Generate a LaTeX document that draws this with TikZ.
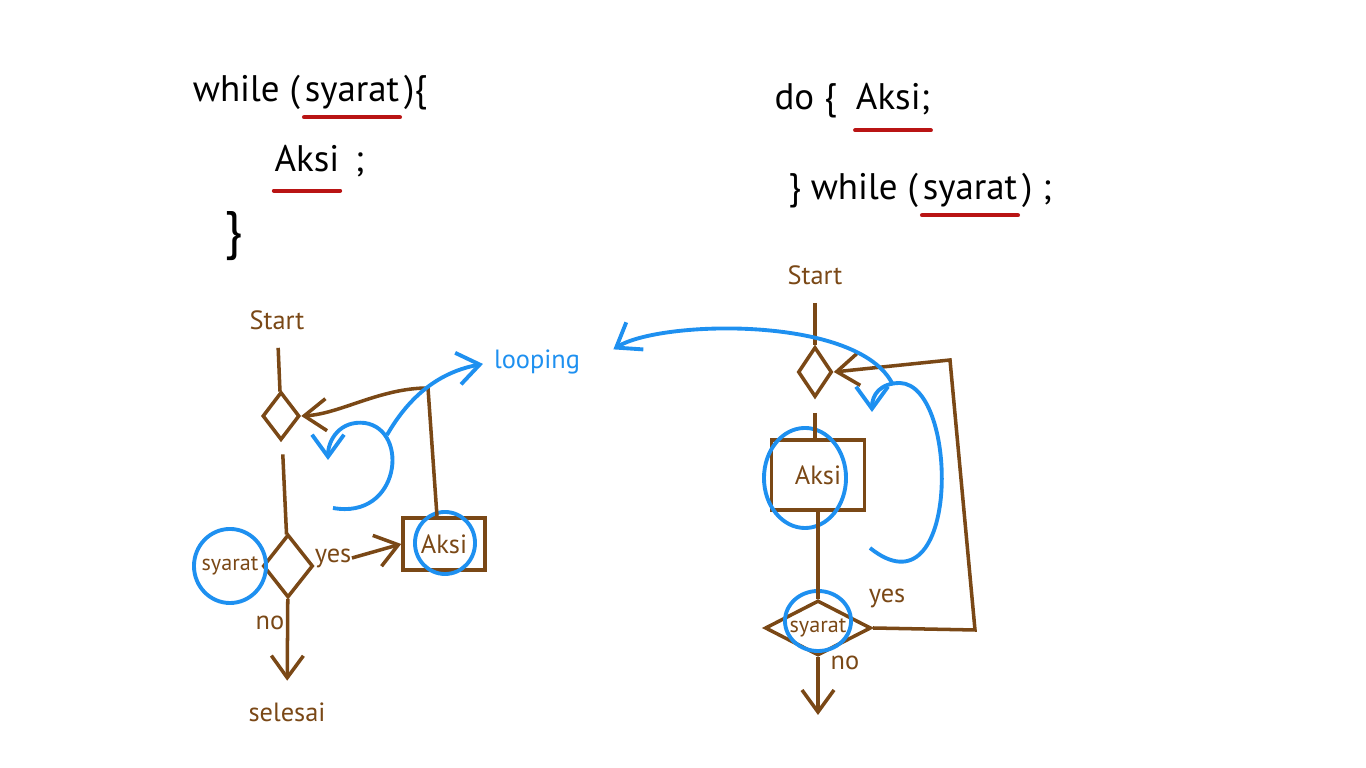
\documentclass[tikz,border=0pt]{standalone}
\usepackage{fontspec}
\setmainfont{PT Sans}
\usetikzlibrary{arrows.meta, positioning, shapes.geometric}
\definecolor{brownink}{RGB}{122,72,22}
\definecolor{blueink}{RGB}{30,144,240}
\definecolor{redink}{RGB}{185,20,20}

\begin{document}
\begin{tikzpicture}[
    x=0.01cm, y=-0.01cm,
    >={Straight Barb[length=2.2mm, width=3.2mm]},
    code/.style={inner sep=0pt, font=\fontsize{10.5}{12}\selectfont},
    lbl/.style={inner sep=0pt, text=brownink, font=\fontsize{7.5}{9}\selectfont},
    small/.style={inner sep=0pt, text=brownink, font=\fontsize{6.3}{8}\selectfont},
    decision/.style={draw=brownink, line width=1pt, diamond, inner sep=0pt},
    action/.style={draw=brownink, line width=1pt, inner sep=0pt, text=brownink, font=\fontsize{7.5}{9}\selectfont},
    flow/.style={brownink, line width=1pt},
    ring/.style={draw=blueink, line width=1.1pt, ellipse, inner sep=0pt},
    spin/.style={blueink, line width=1.1pt},
    redline/.style={redink, line width=1.2pt, line cap=round}
]
\useasboundingbox (0,0) rectangle (1366,768);

\node[code, anchor=base] (condW) at (352,102) {syarat};
\node[code, base left=1pt of condW] (whileW) {while (};
\node[code, base right=1pt of condW] (braceW) {)\{};
\node[code, anchor=base] (actW) at (307,172) {Aksi};
\node[code, base right=4pt of actW] (semiW) {;};
\node[code, font=\fontsize{15}{17}\selectfont] (closeW) at (234,236) {\}};
\draw[redline] ([yshift=-2pt]condW.south west) -- ([yshift=-2pt]condW.south east);
\draw[redline] ([yshift=-5pt]actW.south west) -- ([yshift=-5pt]actW.south east);

\node[code, anchor=base] (actD) at (893,110) {Aksi;};
\node[code, base left=5pt of actD] (doD) {do \{};
\node[code, anchor=base] (condD) at (970,200) {syarat};
\node[code, base left=1pt of condD] (whileD) {\} while (};
\node[code, base right=1pt of condD] (endD) {) ;};
\draw[redline] ([yshift=-4pt]actD.south west) -- ([yshift=-4pt]actD.south east);
\draw[redline] ([yshift=-2pt]condD.south west) -- ([yshift=-2pt]condD.south east);

\node[lbl] (startL) at (277,320) {Start};
\node[decision, minimum width=0.37cm, minimum height=0.48cm] (entryL) at (281,416) {};
\node[decision, minimum width=0.5cm, minimum height=0.63cm] (condL) at (288,566) {};
\node[small] (condLtxt) at (230,566) {syarat};
\node[ring, minimum width=0.72cm, minimum height=0.74cm] (condLring) at (230,566) {};
\node[lbl] (yesL) at (333,558) {yes};
\node[action, minimum width=0.82cm, minimum height=0.52cm] (actL) at (444,544) {Aksi};
\node[ring, minimum width=0.6cm, minimum height=0.62cm] (actLring) at (445,543) {};
\node[lbl] (noL) at (270,623) {no};
\node[lbl] (endL) at (287,712) {selesai};
\coordinate (backL) at (428,388);

\draw[flow, shorten <=5pt] (startL) -- (entryL);
\draw[flow, shorten <=4pt] (entryL) -- (condL);
\draw[flow, ->] (yesL.east) -- (actL.west);
\draw[flow, ->, shorten >=6pt] (condL) -- (endL);
\draw[flow, ->] ([xshift=-0.07cm]actL.north) -- (backL) .. controls (380,388) and (340,414) .. (entryL.east);

\node[lbl] (startR) at (815,275) {Start};
\node[decision, minimum width=0.34cm, minimum height=0.5cm] (entryR) at (815,372) {};
\node[action, minimum width=0.93cm, minimum height=0.7cm] (actR) at (818,475) {Aksi};
\node[ring, minimum width=0.82cm, minimum height=1.0cm] (actRring) at (805,478) {};
\node[decision, minimum width=1.06cm, minimum height=0.55cm] (condR) at (818,628) {};
\node[small] (condRtxt) at (818,628) {syarat};
\node[ring, minimum width=0.66cm, minimum height=0.6cm] (condRring) at (818,621) {};
\node[lbl] (yesR) at (887,598) {yes};
\node[lbl] (noR) at (845,663) {no};
\coordinate (exitR) at (818,715);
\coordinate (cornerRb) at (975,630);
\coordinate (cornerRt) at (950,360);

\draw[flow, shorten <=5pt] (startR) -- (entryR);
\draw[flow, shorten <=4pt] (entryR.south) -- (entryR.south |- actR.north);
\draw[flow] (actR.south) -- (actR.south |- condR.north);
\draw[flow, ->] (condR.south) -- (exitR);
\draw[flow, ->] (condR.east) -- (cornerRb) -- (cornerRt) -- (entryR.east);

\node[text=blueink, inner sep=0pt, font=\fontsize{7.5}{9}\selectfont] (loopTxt) at (537,362) {looping};
\coordinate (spinLa) at (333,508);
\coordinate (spinLb) at (328,460);
\coordinate (spinLc) at (387,435);
\coordinate (spinRa) at (870,548);
\coordinate (spinRb) at (872,412);
\coordinate (spinRc) at (893,385);

\draw[spin, ->] (spinLa) .. controls (400,520) and (410,430) .. (365,423) .. controls (340,420) and (328,440) .. (spinLb);
\draw[spin, ->, shorten >=3pt] (spinLc) .. controls (410,395) and (440,372) .. (loopTxt.west);
\draw[spin, ->] (spinRa) .. controls (960,620) and (960,385) .. (900,383) .. controls (880,383) and (872,395) .. (spinRb);
\draw[spin, ->, shorten >=11pt] (spinRc) .. controls (860,315) and (660,320) .. ([yshift=-0.08cm]loopTxt.east);

\end{tikzpicture}
\end{document}
